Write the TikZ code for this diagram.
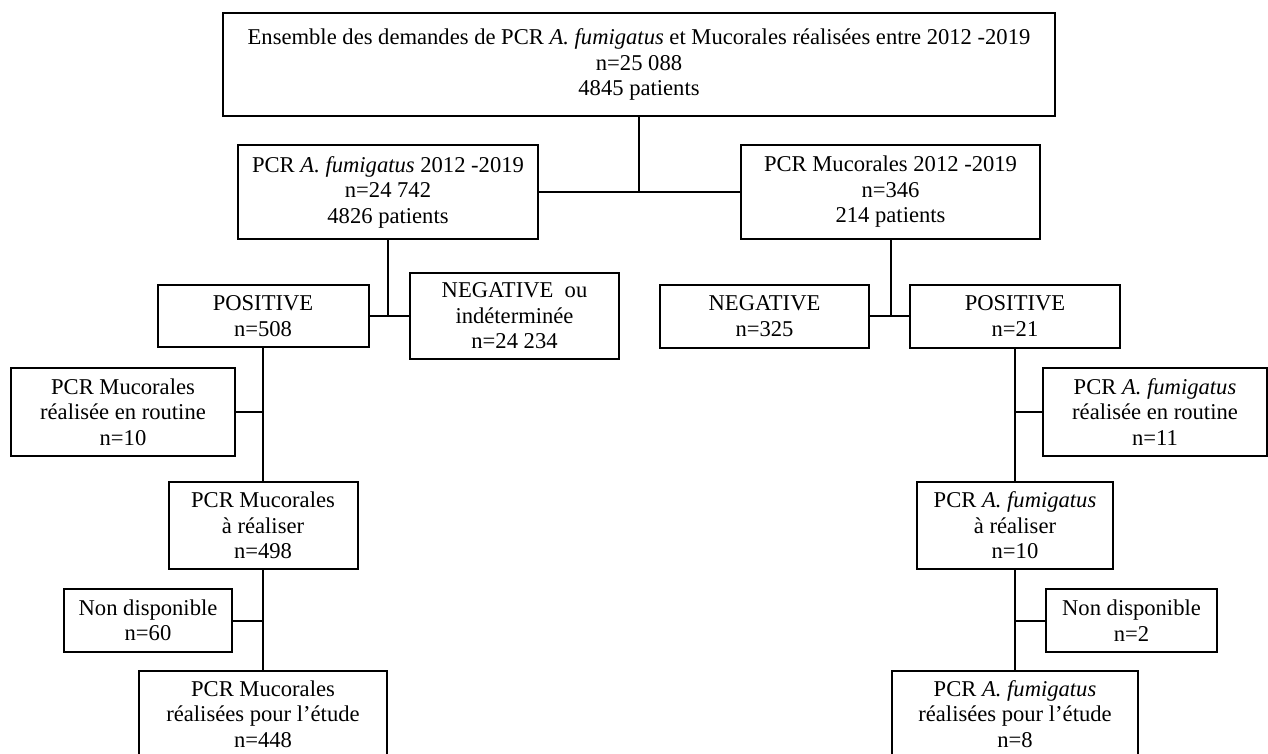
\documentclass[tikz,border=0pt]{standalone}
\usepackage{fontspec}
\setmainfont{Liberation Serif}
\tikzset{
  box/.style={draw, line width=2pt, align=center, inner sep=0pt, fill=white,
    font=\fontsize{22.6}{25.5}\selectfont},
  link/.style={line width=2pt}
}
\begin{document}
\begin{tikzpicture}[x=1pt,y=-1pt]
\useasboundingbox (0,0) rectangle (1268,754);
\clip (0,0) rectangle (1268,754);
\fill[white] (0,0) rectangle (1268,754);
% level 1
\node[box, minimum width=832pt, minimum height=103pt] (top) at (639,64.5)
  {Ensemble des demandes de PCR \textit{A. fumigatus} et Mucorales réalisées entre 2012 -2019\\ n=25 088\\ 4845 patients};
% level 2
\node[box, minimum width=300pt, minimum height=94pt] (af) at (388,192)
  {PCR \textit{A. fumigatus} 2012 -2019\\ n=24 742\\ 4826 patients};
\node[box, minimum width=299pt, minimum height=94pt] (mu) at (890.5,192)
  {PCR Mucorales 2012 -2019\\ n=346\\ 214 patients};
% level 3 left
\node[box, minimum width=211pt, minimum height=62pt] (posl) at (263,316)
  {POSITIVE\\ n=508};
\node[box, minimum width=209pt, minimum height=86pt] (negl) at (514.5,316)
  {NEGATIVE\ \ ou\\ indéterminée\\ n=24 234};
% level 3 right
\node[box, minimum width=209pt, minimum height=63pt] (negr) at (764.5,316)
  {NEGATIVE\\ n=325};
\node[box, minimum width=210pt, minimum height=63pt] (posr) at (1015,316)
  {POSITIVE\\ n=21};
% left chain
\node[box, minimum width=224pt, minimum height=88pt] (routl) at (123,412)
  {PCR Mucorales\\ réalisée en routine\\ n=10};
\node[box, minimum width=189pt, minimum height=87pt] (reall) at (263,525.5)
  {PCR Mucorales\\ à réaliser\\ n=498};
\node[box, minimum width=168pt, minimum height=63pt] (ndl) at (148,620.5)
  {Non disponible\\ n=60};
\node[box, minimum width=248pt, minimum height=86pt] (botl) at (263,714)
  {PCR Mucorales\\ réalisées pour l’étude\\ n=448};
% right chain
\node[box, minimum width=224pt, minimum height=88pt] (routr) at (1155,412)
  {PCR \textit{A. fumigatus}\\ réalisée en routine\\ n=11};
\node[box, minimum width=196pt, minimum height=87pt] (realr) at (1015,525.5)
  {PCR \textit{A. fumigatus}\\ à réaliser\\ n=10};
\node[box, minimum width=171pt, minimum height=63pt] (ndr) at (1131.5,620.5)
  {Non disponible\\ n=2};
\node[box, minimum width=246pt, minimum height=86pt] (botr) at (1015,714)
  {PCR \textit{A. fumigatus}\\ réalisées pour l’étude\\ n=8};
% connectors
\draw[link] (af.east) -- (mu.west);
\draw[link] (top.south) -- (top.south |- af.east);
\draw[link] (posl.east) -- (negl.west);
\draw[link] (af.south) -- (af.south |- posl.east);
\draw[link] (negr.east) -- (posr.west);
\draw[link] (mu.south) -- (mu.south |- negr.east);
\draw[link] (posl.south) -- (reall.north);
\draw[link] (routl.east) -- (routl.east -| posl.south);
\draw[link] (reall.south) -- (botl.north);
\draw[link] (ndl.east) -- (ndl.east -| reall.south);
\draw[link] (posr.south) -- (realr.north);
\draw[link] (routr.west) -- (routr.west -| posr.south);
\draw[link] (realr.south) -- (botr.north);
\draw[link] (ndr.west) -- (ndr.west -| realr.south);
\end{tikzpicture}
\end{document}
